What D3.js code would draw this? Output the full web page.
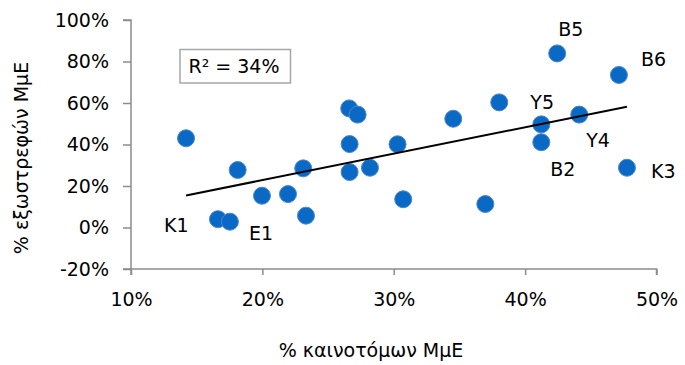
<!DOCTYPE html>
<html>
<head>
<meta charset="utf-8">
<script src="https://cdn.jsdelivr.net/npm/d3@7"></script>
<style>
  html, body { margin: 0; padding: 0; background: #fff; }
  svg text { font-family: "DejaVu Sans", Verdana, sans-serif; fill: #000; }
</style>
</head>
<body>
<svg id="chart" width="685" height="365"></svg>
<script>
// Data (percent values)
const innovX = [14.19, 18.12, 23.11, 19.97, 21.95, 23.32, 16.62, 17.53,
                26.61, 27.25, 26.64, 30.29, 26.64, 28.19, 30.72, 34.53,
                38.03, 36.97, 42.44, 47.14, 44.12, 41.23, 41.23, 47.75];
const exportY = [43.0, 27.7, 28.5, 15.3, 16.1, 5.7, 4.0, 2.8,
                 57.4, 54.4, 40.2, 40.1, 26.7, 28.8, 13.6, 52.4,
                 60.3, 11.3, 83.9, 73.5, 54.4, 49.7, 41.1, 28.8];
const labelNames = ["K1", "E1", "B5", "B6", "Y5", "Y4", "B2", "K3"];
const labelAt = [[16.62, 4.0], [17.53, 2.8], [42.44, 83.9], [47.14, 73.5],
                 [41.23, 49.7], [44.12, 54.4], [41.23, 41.1], [47.75, 28.8]];
const labelOffset = [[-54, 13], [19, 18], [1, -17], [22, -9], [-11, -15], [7, 32], [9, 34], [24, 10]];
const xTicks = [10, 20, 30, 40, 50];
const yTicks = [-20, 0, 20, 40, 60, 80, 100];
const r2Text = "R² = 34%";
const xTitle = "% καινοτόμων ΜμΕ";
const yTitle = "% εξωστρεφών ΜμΕ";

const FS = "19px";
const svg = d3.select("#chart");
const x = d3.scaleLinear().domain([10, 50]).range([131, 656.5]);
const y = d3.scaleLinear().domain([-20, 100]).range([269, 20]);
const axisColor = "#8c8c8c";

// Y axis
const yAxis = svg.append("g").attr("transform", "translate(131,0)")
  .call(d3.axisLeft(y).tickValues(yTicks).tickFormat(d => d + "%").tickSize(8).tickPadding(14));
// X axis
const xAxis = svg.append("g").attr("transform", "translate(0,269)")
  .call(d3.axisBottom(x).tickValues(xTicks).tickFormat(d => d + "%").tickSize(6).tickPadding(18));
[yAxis, xAxis].forEach(g => {
  g.select(".domain").attr("stroke", axisColor).attr("stroke-width", 1.5);
  g.selectAll(".tick line").attr("stroke", axisColor).attr("stroke-width", 1.5);
  g.selectAll(".tick text").style("font-size", FS).attr("fill", "#000");
});
xAxis.select(".domain").attr("d", `M${x(10)},0V6M${x(10)},0H${x(50)}V6`);
yAxis.select(".domain").attr("d", `M-8,${y(100)}H0V${y(-20)}H-8`);

// Regression line computed from data
const mx = d3.mean(innovX), my = d3.mean(exportY);
let sxy = 0, sxx = 0;
innovX.forEach((v, i) => { sxy += (v - mx) * (exportY[i] - my); sxx += (v - mx) * (v - mx); });
const slope = sxy / sxx, icpt = my - slope * mx;
const x0 = d3.min(innovX), x1 = d3.max(innovX);

// Points
svg.append("g").selectAll("circle").data(innovX).join("circle")
  .attr("cx", d => x(d)).attr("cy", (d, i) => y(exportY[i]))
  .attr("r", 8.5).attr("fill", "#0a69c4").attr("stroke", "#4a86cc").attr("stroke-width", 1);

// Trend line on top of points
svg.append("line")
  .attr("x1", x(x0)).attr("y1", y(icpt + slope * x0))
  .attr("x2", x(x1)).attr("y2", y(icpt + slope * x1))
  .attr("stroke", "#000").attr("stroke-width", 2);

// Point labels
svg.append("g").selectAll("text").data(labelNames).join("text")
  .attr("x", (d, i) => x(labelAt[i][0]) + labelOffset[i][0])
  .attr("y", (d, i) => y(labelAt[i][1]) + labelOffset[i][1])
  .style("font-size", FS)
  .text(d => d);

// R² box
svg.append("rect").attr("x", 180).attr("y", 49.5).attr("width", 110.5).attr("height", 33.5)
  .attr("fill", "#fff").attr("stroke", "#a6a6a6").attr("stroke-width", 1.5);
svg.append("text").attr("x", 234).attr("y", 73).attr("text-anchor", "middle")
  .style("font-size", FS).text(r2Text);

// Axis titles
svg.append("text").attr("x", 371).attr("y", 357).attr("text-anchor", "middle")
  .style("font-size", FS).text(xTitle);
svg.append("text").attr("transform", "translate(28,158) rotate(-90)").attr("text-anchor", "middle")
  .style("font-size", FS).text(yTitle);
</script>
</body>
</html>
